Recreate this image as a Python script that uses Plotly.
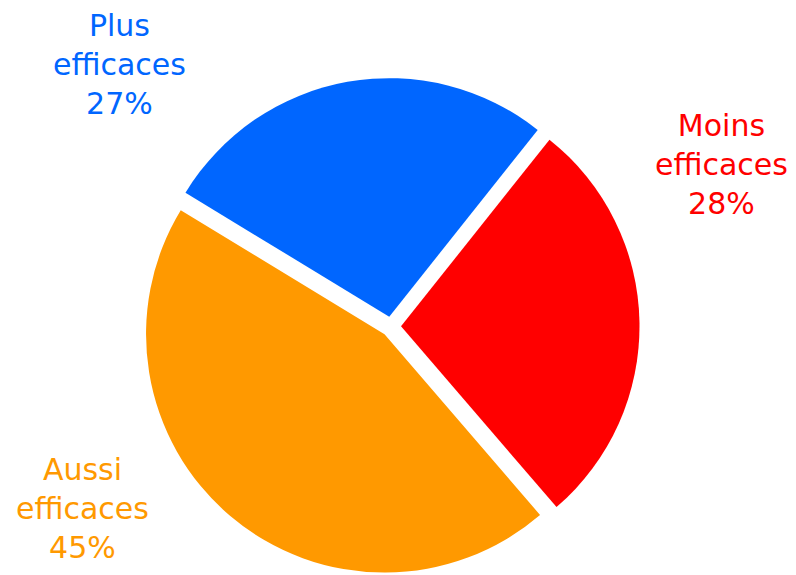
import plotly.graph_objects as go

# Survey answers, in drawing order (clockwise, starting at the upper right)
labels = ["Moins efficaces", "Aussi efficaces", "Plus efficaces"]
values = [28, 45, 27]
colors = ["#FF0000", "#FF9900", "#0066FF"]

# Label anchor points (paper fractions) for each slice's caption
label_x = [721 / 796, 82 / 796, 120 / 796]
label_y = [1 - 164 / 575, 1 - 508 / 575, 1 - 64 / 575]

W, H = 796, 575
cx, cy = 391, 326.5          # pie centre in pixels
box = 497                    # pie bounding box (pixels)

fig = go.Figure(
    go.Pie(
        labels=labels,
        values=values,
        sort=False,
        direction="clockwise",
        rotation=38.5,
        pull=[0.042, 0.042, 0.042],
        marker=dict(colors=colors, line=dict(width=0)),
        textinfo="none",
        hoverinfo="label+percent",
        domain=dict(
            x=[(cx - box / 2) / W, (cx + box / 2) / W],
            y=[1 - (cy + box / 2) / H, 1 - (cy - box / 2) / H],
        ),
    )
)

for lab, val, col, x, y in zip(labels, values, colors, label_x, label_y):
    fig.add_annotation(
        text=f"{lab.replace(' ', '<br>')}<br>{val}%",
        x=x, y=y, xref="paper", yref="paper",
        xanchor="center", yanchor="middle",
        showarrow=False, align="center",
        font=dict(family="DejaVu Sans", size=30, color=col),
    )

fig.update_layout(
    width=W, height=H,
    margin=dict(l=0, r=0, t=0, b=0),
    paper_bgcolor="white",
    plot_bgcolor="white",
    showlegend=False,
)

fig.write_html("out.html")
